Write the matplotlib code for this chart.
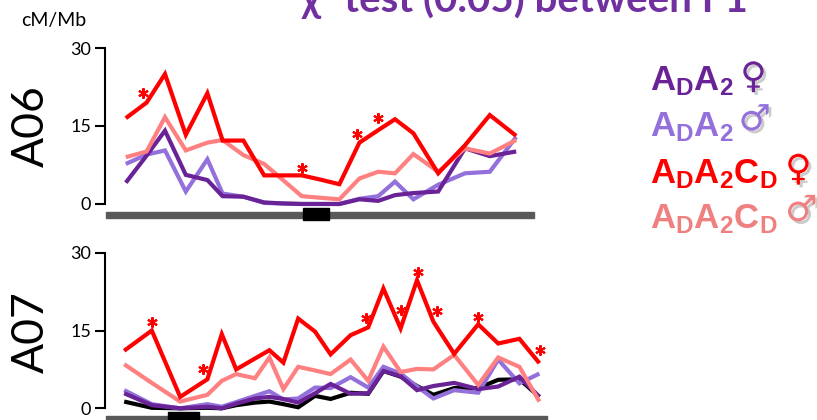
#libraries
import numpy as np
import matplotlib
matplotlib.use('Agg')
import matplotlib.pyplot as plt
from matplotlib.patches import Rectangle
import matplotlib.patheffects as pe

plt.rcParams['font.family'] = ['Lato', 'DejaVu Sans']
plt.rcParams['mathtext.fontset'] = 'custom'
plt.rcParams['mathtext.bf'] = 'Liberation Sans:bold'
plt.rcParams['mathtext.rm'] = 'Liberation Sans:bold'

#data - A06 (position in Mb, recombination rate cM/Mb)
a06_pos = [5.2, 10.4, 15.0, 20.2, 25.6, 29.4, 34.6, 39.8, 44.5, 49.2,
           53.8, 58.6, 63.6, 68.3, 72.5, 77.1, 83.3, 90.0, 96.2, 102.8]
a06_adA2_f = [4.1, 9.3, 14.1, 5.6, 4.6, 1.5, 1.4, 0.3, 0.1, 0.0,
              0.0, 0.0, 0.9, 0.6, 1.7, 2.1, 2.4, 10.7, 9.2, 10.1]
a06_adA2_m = [7.7, 9.5, 10.3, 2.4, 8.6, 2.0, 1.4, 0.2, 0.1, 0.0,
              0.0, 0.0, 1.0, 1.5, 4.3, 0.9, 3.7, 5.9, 6.2, 12.9]
a06_adA2Cd_f = [16.5, 19.5, 25.0, 13.3, 21.3, 12.2, 12.2, 5.5, 5.5, 5.5,
                4.7, 3.8, 11.8, 14.2, 16.3, 13.6, 5.9, 11.3, 17.1, 13.1]
a06_adA2Cd_m = [9.0, 10.1, 16.7, 10.3, 11.8, 12.3, 9.4, 7.7, 4.6, 1.5,
                1.2, 0.9, 4.9, 6.2, 5.9, 9.6, 6.2, 10.7, 9.7, 12.3]
a06_star_x = [9.6, 49.2, 63.1, 68.2]
a06_star_y = [21.4, 6.9, 13.4, 16.5]
a06_len = 107.3
a06_cen = (49.4, 56.0)

#data - A07
a07_pos = [4.8, 11.7, 18.8, 25.6, 29.2, 32.8, 37.5, 41.1, 44.6, 48.3, 52.5, 56.4,
           61.4, 65.8, 69.6, 73.9, 78.0, 82.1, 87.3, 93.3, 98.3, 103.6, 108.6]
a07_ctrl = [1.3, 0.1, 0.0, 0.1, 0.0, 0.6, 1.1, 1.3, 0.8, 0.2, 2.4, 1.8,
            3.0, 2.8, 7.2, 6.1, 4.3, 2.6, 3.9, 3.9, 5.5, 5.6, 2.2]
a07_adA2_f = [2.9, 0.6, 0.0, 0.3, 0.0, 0.9, 1.9, 2.2, 1.8, 1.1, 2.9, 4.7,
              2.8, 2.9, 7.2, 6.2, 3.5, 4.3, 4.9, 3.7, 4.2, 6.1, 2.2]
a07_adA2_m = [3.5, 0.8, 0.0, 0.8, 0.3, 1.2, 2.4, 3.3, 1.7, 1.9, 4.0, 3.9,
              6.0, 4.0, 8.0, 6.7, 4.2, 1.9, 3.5, 3.0, 9.4, 4.8, 6.7]
a07_adA2Cd_f = [11.1, 15.0, 2.2, 5.6, 14.3, 7.5, 9.6, 11.2, 8.8, 17.3, 14.8, 10.4,
                14.1, 15.6, 23.1, 15.4, 24.7, 16.7, 10.5, 16.2, 12.5, 13.4, 8.7]
a07_adA2Cd_m = [8.5, 4.9, 1.3, 2.6, 5.3, 6.6, 5.8, 9.8, 3.7, 8.0, 7.3, 6.6,
                9.4, 5.3, 11.9, 7.0, 7.6, 7.5, 10.3, 4.5, 9.8, 8.0, 1.3]
a07_star_x = [11.7, 24.4, 65.2, 73.9, 78.2, 82.9, 93.2, 108.8]
a07_star_y = [16.7, 7.5, 17.5, 19.0, 26.3, 18.8, 17.6, 11.2]
a07_len = 110.4
a07_cen = (15.8, 23.5)

#colors
DARK_PURPLE = '#6A2396'
LIGHT_PURPLE = '#9370DB'
RED = '#FF0000'
PINK = '#FF8080'
PINK_LEGEND = '#F08080'

fig = plt.figure(figsize=(8.17, 4.2), dpi=100)

#axes positions in figure fraction
ax_top = fig.add_axes([0.1285, 0.4762, 0.5447, 0.4095])
ax_bot = fig.add_axes([0.1285, -0.0102, 0.5447, 0.4085])


def draw_panel(ax, pos, series, star_x, star_y, length, cen):
    for vals, color in series:
        ax.plot(pos, vals, color=color, lw=3, solid_joinstyle='miter',
                solid_capstyle='butt')
    ax.plot(star_x, star_y, ls='none', marker=(6, 2, 0), ms=7.5, mew=1.5,
            color=RED)
    #chromosome bar and centromere
    ax.add_patch(Rectangle((0.25, -2.65), length - 0.25, 1.15,
                           color='#595959', clip_on=False, zorder=3))
    ax.add_patch(Rectangle((cen[0], -3.1), cen[1] - cen[0], 2.35,
                           color='black', clip_on=False, zorder=4))
    ax.set_xlim(0, 111.25)
    ax.set_ylim(-3.08, 30)
    for s in ['top', 'right', 'bottom']:
        ax.spines[s].set_visible(False)
    ax.spines['left'].set_bounds(0, 30)
    ax.spines['left'].set_linewidth(1.5)
    ax.set_xticks([])
    ax.set_yticks([0, 15, 30])
    ax.tick_params(axis='y', direction='out', length=7, width=1.5,
                   labelsize=13, pad=3)
    ax.patch.set_alpha(0)


draw_panel(ax_top, a06_pos,
           [(a06_adA2_m, LIGHT_PURPLE), (a06_adA2_f, DARK_PURPLE),
            (a06_adA2Cd_m, PINK), (a06_adA2Cd_f, RED)],
           a06_star_x, a06_star_y, a06_len, a06_cen)
draw_panel(ax_bot, a07_pos,
           [(a07_ctrl, 'black'), (a07_adA2_m, LIGHT_PURPLE),
            (a07_adA2_f, DARK_PURPLE), (a07_adA2Cd_m, PINK),
            (a07_adA2Cd_f, RED)],
           a07_star_x, a07_star_y, a07_len, a07_cen)

#labels
fig.text(0.038, 0.70, 'A06', rotation=90, fontsize=32, ha='center', va='center')
fig.text(0.038, 0.21, 'A07', rotation=90, fontsize=32, ha='center', va='center')
fig.text(0.066, 0.952, 'cM/Mb', fontsize=14, ha='center', va='center')

#title (cut off at the top, as in the original slide)
fig.text(0.369, 0.972, 'χ² test (0.05) between F1', fontsize=29,
         fontweight='bold', color='#7030A0', ha='left', va='baseline')

#legend
legend_labels = [r'$\mathbf{A_DA_2}$', r'$\mathbf{A_DA_2}$',
                 r'$\mathbf{A_DA_2C_D}$', r'$\mathbf{A_DA_2C_D}$']
legend_colors = [DARK_PURPLE, LIGHT_PURPLE, RED, PINK_LEGEND]
legend_syms = ['♀', '♂', '♀', '♂']
legend_base = [0.7857, 0.6745, 0.5643, 0.457]
legend_sym_x = [0.906, 0.904, 0.961, 0.961]
legend_sym_y = [0.815, 0.714, 0.595, 0.498]
shadow = [pe.SimplePatchShadow(offset=(2, -2), shadow_rgbFace='#999999', alpha=0.5),
          pe.Normal()]
for lab, col, sym, yb, sx, sy in zip(legend_labels, legend_colors, legend_syms,
                                     legend_base, legend_sym_x, legend_sym_y):
    fig.text(0.7956, yb, lab, fontsize=25, color=col, ha='left', va='baseline')
    fig.text(sx, sy, sym, fontsize=26, color=col, ha='left', va='center',
             family='DejaVu Sans', fontweight='bold', path_effects=shadow)

fig.savefig('out.png', dpi=100)
